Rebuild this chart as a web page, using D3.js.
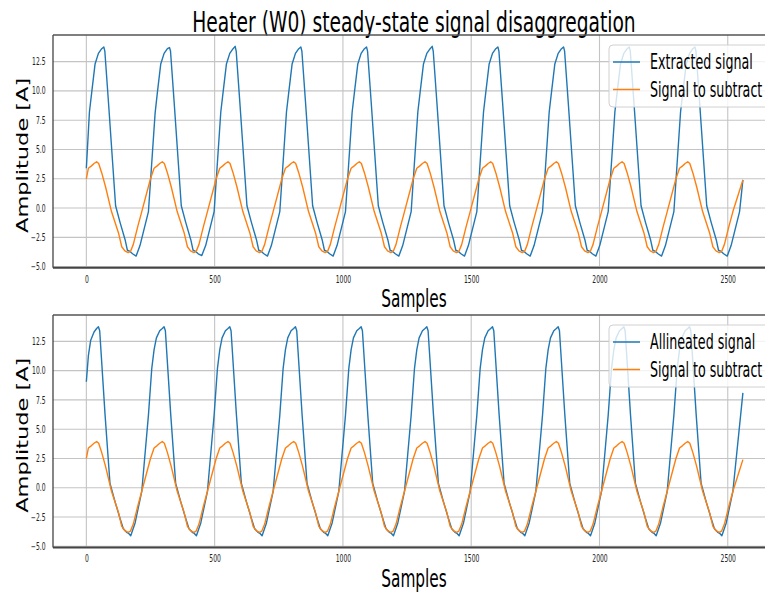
<!DOCTYPE html>
<html><head><meta charset="utf-8">
<script src="https://cdn.jsdelivr.net/npm/d3@7"></script>
<style>html,body{margin:0;padding:0;background:#fff;}svg{display:block;font-family:"DejaVu Sans",sans-serif;}</style>
</head><body><svg id="c" width="765" height="592"></svg>
<script>
const title = "Heater (W0) steady-state signal disaggregation";
const xLabel = "Samples";
const yLabel = "Amplitude [A]";
const legendTop = ["Extracted signal", "Signal to subtract"];
const legendBottom = ["Allineated signal", "Signal to subtract"];
const xTicks = [0, 500, 1000, 1500, 2000, 2500];
const yTicks = [-5, -2.5, 0, 2.5, 5, 7.5, 10, 12.5];

// [sample, amplitude]
const extracted = [
[0,3.4],[12,8.2],[21,9.9],[34,12.3],[47,13.2],[60,13.6],[68,13.75],[72,13.4],[86,9.1],[114,0.2],[131,-1.2],[151,-2.7],[160,-3.6],[170,-3.7],[180,-3.9],[194,-4.1],[209,-3.2],[242,-0.3],
[268,8.1],[277,9.9],[290,12.3],[303,13.2],[316,13.6],[324,13.7],[328,13.4],[342,9.1],[370,0.2],[387,-1.2],[407,-2.7],[416,-3.6],[426,-3.7],[436,-3.9],[450,-4.05],[465,-3.2],[498,-0.3],
[524,8.2],[533,9.9],[546,12.3],[559,13.2],[572,13.6],[580,13.8],[584,13.4],[598,9.1],[626,0.2],[643,-1.2],[663,-2.7],[672,-3.6],[682,-3.7],[692,-3.9],[706,-4.1],[721,-3.2],[754,-0.3],
[780,8.2],[789,9.9],[802,12.3],[815,13.2],[828,13.6],[836,13.75],[840,13.4],[854,9.1],[882,0.2],[899,-1.2],[919,-2.7],[928,-3.6],[938,-3.7],[948,-3.9],[962,-4.1],[977,-3.2],[1010,-0.3],
[1036,8.2],[1045,9.9],[1058,12.3],[1071,13.2],[1084,13.6],[1092,13.75],[1096,13.4],[1110,9.1],[1138,0.2],[1155,-1.2],[1175,-2.7],[1184,-3.6],[1194,-3.7],[1204,-3.9],[1218,-4.1],[1233,-3.2],[1266,-0.3],
[1292,8.2],[1301,9.9],[1314,12.3],[1327,13.2],[1340,13.6],[1348,13.8],[1352,13.4],[1366,9.1],[1394,0.2],[1411,-1.2],[1431,-2.7],[1440,-3.6],[1450,-3.7],[1460,-3.9],[1474,-4.1],[1489,-3.2],[1522,-0.3],
[1548,8.2],[1557,9.9],[1570,12.3],[1583,13.2],[1596,13.6],[1604,13.75],[1608,13.4],[1622,9.1],[1650,0.2],[1667,-1.2],[1687,-2.7],[1696,-3.6],[1706,-3.7],[1716,-3.9],[1730,-4.1],[1745,-3.2],[1778,-0.3],
[1804,8.2],[1813,9.9],[1826,12.3],[1839,13.2],[1852,13.6],[1860,13.75],[1864,13.4],[1878,9.1],[1906,0.2],[1923,-1.2],[1943,-2.7],[1952,-3.6],[1962,-3.7],[1972,-3.9],[1986,-4.1],[2001,-3.2],[2034,-0.3],
[2060,8.2],[2069,9.9],[2082,12.3],[2095,13.2],[2108,13.6],[2116,13.75],[2120,13.4],[2134,9.1],[2162,0.2],[2179,-1.2],[2199,-2.7],[2208,-3.6],[2218,-3.7],[2228,-3.9],[2242,-4.1],[2257,-3.2],[2290,-0.3],
[2316,8.2],[2325,9.9],[2338,12.3],[2351,13.2],[2364,13.6],[2372,13.75],[2376,13.4],[2390,9.1],[2418,0.2],[2435,-1.2],[2455,-2.7],[2464,-3.6],[2474,-3.7],[2484,-3.9],[2498,-4.1],[2513,-3.2],[2546,-0.3],[2559,2.4]
];

const toSubtract = [
[0,2.5],[8,3.4],[20,3.6],[30,3.8],[40,3.95],[48,3.8],[60,3.0],[75,1.8],[98,-0.3],[125,-2.1],[138,-3.3],[150,-3.65],[163,-3.8],[172,-3.7],[183,-3.1],[200,-1.6],[216,-0.3],[250,2.5],
[264,3.4],[276,3.6],[286,3.8],[296,3.95],[304,3.8],[316,3.0],[331,1.8],[354,-0.3],[381,-2.1],[394,-3.3],[406,-3.65],[419,-3.8],[428,-3.7],[439,-3.1],[456,-1.6],[472,-0.3],[506,2.5],
[520,3.4],[532,3.6],[542,3.8],[552,3.95],[560,3.8],[572,3.0],[587,1.8],[610,-0.3],[637,-2.1],[650,-3.3],[662,-3.65],[675,-3.8],[684,-3.7],[695,-3.1],[712,-1.6],[728,-0.3],[762,2.5],
[776,3.4],[788,3.6],[798,3.8],[808,3.95],[816,3.8],[828,3.0],[843,1.8],[866,-0.3],[893,-2.1],[906,-3.3],[918,-3.65],[931,-3.8],[940,-3.7],[951,-3.1],[968,-1.6],[984,-0.3],[1018,2.5],
[1032,3.4],[1044,3.6],[1054,3.8],[1064,3.95],[1072,3.8],[1084,3.0],[1099,1.8],[1122,-0.3],[1149,-2.1],[1162,-3.3],[1174,-3.65],[1187,-3.8],[1196,-3.7],[1207,-3.1],[1224,-1.6],[1240,-0.3],[1274,2.5],
[1288,3.4],[1300,3.6],[1310,3.8],[1320,3.95],[1328,3.8],[1340,3.0],[1355,1.8],[1378,-0.3],[1405,-2.1],[1418,-3.3],[1430,-3.65],[1443,-3.8],[1452,-3.7],[1463,-3.1],[1480,-1.6],[1496,-0.3],[1530,2.5],
[1544,3.4],[1556,3.6],[1566,3.8],[1576,3.95],[1584,3.8],[1596,3.0],[1611,1.8],[1634,-0.3],[1661,-2.1],[1674,-3.3],[1686,-3.65],[1699,-3.8],[1708,-3.7],[1719,-3.1],[1736,-1.6],[1752,-0.3],[1786,2.5],
[1800,3.4],[1812,3.6],[1822,3.8],[1832,3.95],[1840,3.8],[1852,3.0],[1867,1.8],[1890,-0.3],[1917,-2.1],[1930,-3.3],[1942,-3.65],[1955,-3.8],[1964,-3.7],[1975,-3.1],[1992,-1.6],[2008,-0.3],[2042,2.5],
[2056,3.4],[2068,3.6],[2078,3.8],[2088,3.95],[2096,3.8],[2108,3.0],[2123,1.8],[2146,-0.3],[2173,-2.1],[2186,-3.3],[2198,-3.65],[2211,-3.8],[2220,-3.7],[2231,-3.1],[2248,-1.6],[2264,-0.3],[2298,2.5],
[2312,3.4],[2324,3.6],[2334,3.8],[2344,3.95],[2352,3.8],[2364,3.0],[2379,1.8],[2402,-0.3],[2429,-2.1],[2442,-3.3],[2454,-3.65],[2467,-3.8],[2476,-3.7],[2487,-3.1],[2504,-1.6],[2520,-0.3],[2559,2.4]
];

const allineated = [
[0,9.05],[8,11.3],[17,12.6],[30,13.3],[40,13.6],[47,13.75],[52,13.4],[73,6.2],[92,0.4],[112,-1.2],[131,-2.6],[144,-3.5],[157,-3.8],[165,-3.9],[173,-4.1],[190,-3.0],[216,-0.3],
[242,6.2],[255,10.2],[264,11.8],[273,12.8],[286,13.4],[296,13.6],[303,13.75],[308,13.4],[329,6.2],[348,0.4],[368,-1.2],[387,-2.6],[400,-3.5],[413,-3.8],[421,-3.9],[429,-4.1],[446,-3.0],[472,-0.3],
[498,6.2],[511,10.2],[520,11.8],[529,12.8],[542,13.4],[552,13.6],[559,13.75],[564,13.4],[585,6.2],[604,0.4],[624,-1.2],[643,-2.6],[656,-3.5],[669,-3.8],[677,-3.9],[685,-4.1],[702,-3.0],[728,-0.3],
[754,6.2],[767,10.2],[776,11.8],[785,12.8],[798,13.4],[808,13.6],[815,13.75],[820,13.4],[841,6.2],[860,0.4],[880,-1.2],[899,-2.6],[912,-3.5],[925,-3.8],[933,-3.9],[941,-4.1],[958,-3.0],[984,-0.3],
[1010,6.2],[1023,10.2],[1032,11.8],[1041,12.8],[1054,13.4],[1064,13.6],[1071,13.75],[1076,13.4],[1097,6.2],[1116,0.4],[1136,-1.2],[1155,-2.6],[1168,-3.5],[1181,-3.8],[1189,-3.9],[1197,-4.1],[1214,-3.0],[1240,-0.3],
[1266,6.2],[1279,10.2],[1288,11.8],[1297,12.8],[1310,13.4],[1320,13.6],[1327,13.75],[1332,13.4],[1353,6.2],[1372,0.4],[1392,-1.2],[1411,-2.6],[1424,-3.5],[1437,-3.8],[1445,-3.9],[1453,-4.1],[1470,-3.0],[1496,-0.3],
[1522,6.2],[1535,10.2],[1544,11.8],[1553,12.8],[1566,13.4],[1576,13.6],[1583,13.75],[1588,13.4],[1609,6.2],[1628,0.4],[1648,-1.2],[1667,-2.6],[1680,-3.5],[1693,-3.8],[1701,-3.9],[1709,-4.1],[1726,-3.0],[1752,-0.3],
[1778,6.2],[1791,10.2],[1800,11.8],[1809,12.8],[1822,13.4],[1832,13.6],[1839,13.75],[1844,13.4],[1865,6.2],[1884,0.4],[1904,-1.2],[1923,-2.6],[1936,-3.5],[1949,-3.8],[1957,-3.9],[1965,-4.1],[1982,-3.0],[2008,-0.3],
[2034,6.2],[2047,10.2],[2056,11.8],[2065,12.8],[2078,13.4],[2088,13.6],[2095,13.75],[2100,13.4],[2121,6.2],[2140,0.4],[2160,-1.2],[2179,-2.6],[2192,-3.5],[2205,-3.8],[2213,-3.9],[2221,-4.1],[2238,-3.0],[2264,-0.3],
[2290,6.2],[2303,10.2],[2312,11.8],[2321,12.8],[2334,13.4],[2344,13.6],[2351,13.75],[2356,13.4],[2377,6.2],[2396,0.4],[2416,-1.2],[2435,-2.6],[2448,-3.5],[2461,-3.8],[2469,-3.9],[2477,-4.1],[2494,-3.0],[2520,-0.3],[2559,8.1]
];

const BLUE = "#1f77b4", ORANGE = "#ff7f0e";
const SX = 0.63; // horizontal squeeze of the reference picture
const svg = d3.select("#c");
const W = 765;

svg.append("text").attr("text-anchor","middle")
  .attr("transform",`translate(414,32) scale(0.655,1)`)
  .attr("font-size",28.5).attr("fill","#000").text(title);

function panel(top, bottom, blueData, blueName, orangeName, yDom) {
  const left = 53, right = 776;
  const x = d3.scaleLinear().domain([-130, 2688]).range([left, right]);
  const y = d3.scaleLinear().domain(yDom).range([bottom, top]);
  const g = svg.append("g");
  const clipId = "clip" + Math.round(top);
  svg.append("clipPath").attr("id", clipId).append("rect")
    .attr("x", left).attr("y", top).attr("width", right-left).attr("height", bottom-top);

  // grid
  g.append("g").selectAll("line").data(yTicks).join("line")
    .attr("x1", left).attr("x2", W).attr("y1", d=>y(d)).attr("y2", d=>y(d))
    .attr("stroke","#c4c4c4").attr("stroke-width",1.1);
  g.append("g").selectAll("line").data(xTicks).join("line")
    .attr("y1", top).attr("y2", bottom).attr("x1", d=>x(d)).attr("x2", d=>x(d))
    .attr("stroke","#c4c4c4").attr("stroke-width",1.1);

  // axes
  const ya = g.append("g").attr("transform",`translate(${left},0)`)
    .call(d3.axisLeft(y).tickValues(yTicks).tickFormat(d3.format(".1f")).tickSize(0).tickPadding(0));
  ya.select(".domain").remove();
  ya.selectAll("text").attr("x", -7.5/SX).attr("transform",`scale(${SX},1)`)
    .attr("font-size",9.6).attr("font-family","DejaVu Sans").attr("fill","#222");
  const xa = g.append("g").attr("transform",`translate(0,${bottom})`)
    .call(d3.axisBottom(x).tickValues(xTicks).tickFormat(d3.format("d")).tickSize(0).tickPadding(8));
  xa.select(".domain").remove();
  xa.selectAll("text").attr("transform",`scale(${SX},1)`)
    .attr("font-size",9.6).attr("font-family","DejaVu Sans").attr("fill","#222");

  // lines
  const line = d3.line().x(d=>x(d[0])).y(d=>y(d[1]));
  const lg = g.append("g").attr("clip-path",`url(#${clipId})`);
  lg.append("path").datum(blueData).attr("d", line).attr("fill","none")
    .attr("stroke", BLUE).attr("stroke-width",1.4).attr("stroke-linejoin","round");
  lg.append("path").datum(toSubtract).attr("d", line).attr("fill","none")
    .attr("stroke", ORANGE).attr("stroke-width",1.4).attr("stroke-linejoin","round");

  // spines
  g.append("line").attr("x1",left).attr("x2",W).attr("y1",top).attr("y2",top)
    .attr("stroke","#555").attr("stroke-width",1.3);
  g.append("line").attr("x1",left).attr("x2",left).attr("y1",top).attr("y2",bottom)
    .attr("stroke","#444").attr("stroke-width",1.3);
  g.append("line").attr("x1",left).attr("x2",W).attr("y1",bottom).attr("y2",bottom)
    .attr("stroke","#444").attr("stroke-width",2);

  // labels
  g.append("text").attr("text-anchor","middle")
    .attr("transform",`translate(414,${bottom+39}) scale(0.64,1)`)
    .attr("font-size",24).attr("fill","#000").text(xLabel);
  g.append("text").attr("text-anchor","middle")
    .attr("transform",`translate(27.5,${(top+bottom)/2+4}) scale(0.68,1) rotate(-90)`)
    .attr("font-size",22.5).attr("fill","#000").text(yLabel);

  // legend
  const L = g.append("g");
  L.append("rect").attr("x",609).attr("y",top+10).attr("width",200).attr("height",62)
    .attr("rx",4).attr("fill","#fff").attr("fill-opacity",0.8).attr("stroke","#d0d0d0");
  [[blueName, BLUE],[orangeName, ORANGE]].forEach((e,i)=>{
    const yy = top + 27 + i*27.5;
    L.append("line").attr("x1",613).attr("x2",640).attr("y1",yy).attr("y2",yy)
      .attr("stroke",e[1]).attr("stroke-width",1.5);
    L.append("text").attr("transform",`translate(650,${yy+7}) scale(0.61,1)`)
      .attr("font-size",20.8).attr("fill","#000").text(e[0]);
  });
}

panel(35, 267.7, extracted, legendTop[0], legendTop[1], [-5.09, 14.77]);
panel(315, 547.5, allineated, legendBottom[0], legendBottom[1], [-5.1, 14.75]);
</script></body></html>
